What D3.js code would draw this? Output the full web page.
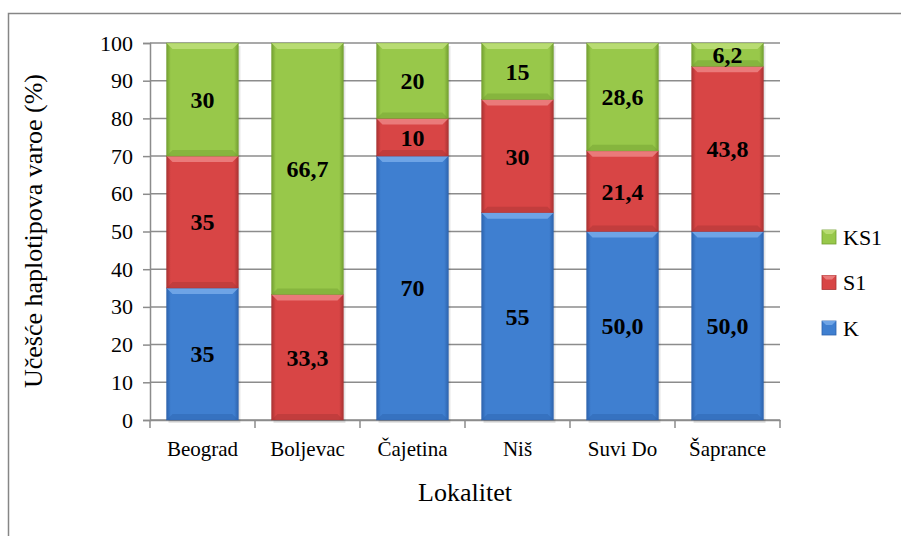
<!DOCTYPE html>
<html><head><meta charset="utf-8">
<script src="https://cdn.jsdelivr.net/npm/d3@7"></script>
<style>body{margin:0;background:#fff}svg{display:block}</style>
</head><body><svg id="c" width="901" height="536" font-family="Liberation Serif"></svg>
<script>
const categories = ["Beograd","Boljevac","Čajetina","Niš","Suvi Do","Šaprance"];
const seriesNames = ["K","S1","KS1"];
const valK   = [35, 0, 70, 55, 50.0, 50.0];
const valS1  = [35, 33.3, 10, 30, 21.4, 43.8];
const valKS1 = [30, 66.7, 20, 15, 28.6, 6.2];
const lblK   = ["35","","70","55","50,0","50,0"];
const lblS1  = ["35","33,3","10","30","21,4","43,8"];
const lblKS1 = ["30","66,7","20","15","28,6","6,2"];
const yTicks = [0,10,20,30,40,50,60,70,80,90,100];

const FONT = "Liberation Serif";
const colors = {K:{base:"#3f7fd0",light:"#6ea4e6",dark:"#2d63ad"},
                S1:{base:"#d84545",light:"#ea7a7a",dark:"#a83232"},
                KS1:{base:"#98c84a",light:"#b8dc72",dark:"#729e30"}};
const svg = d3.select("#c");

// outer border
svg.append("path").attr("d","M8.5,540 V13.5 H905").attr("fill","none").attr("stroke","#868686").attr("stroke-width",1.5);

const x = d3.scaleBand().domain(categories).range([150,780]).paddingInner(0.315).paddingOuter(0.157);
const xb = d3.scaleBand().domain(categories).range([150,780]);
const y = d3.scaleLinear().domain([0,100]).range([420,43]);

const defs = svg.append("defs");
seriesNames.forEach(s=>{
  const g = defs.append("linearGradient").attr("id","g"+s).attr("x1","0").attr("x2","1").attr("y1","0").attr("y2","0");
  g.append("stop").attr("offset","0").attr("stop-color",colors[s].dark);
  g.append("stop").attr("offset","0.06").attr("stop-color",colors[s].base);
  g.append("stop").attr("offset","0.94").attr("stop-color",colors[s].base);
  g.append("stop").attr("offset","1").attr("stop-color",colors[s].dark);
});

// gridlines
svg.append("g").selectAll("line").data(yTicks).join("line")
  .attr("x1",150).attr("x2",780).attr("y1",d=>y(d)).attr("y2",d=>y(d))
  .attr("stroke","#8c8c8c").attr("stroke-width",1.5);

// y axis
const ya = svg.append("g").attr("transform","translate(150,0)")
  .call(d3.axisLeft(y).tickValues(yTicks).tickSize(7).tickPadding(10));
ya.attr("font-family",FONT);
ya.select(".domain").attr("stroke","#8c8c8c").attr("stroke-width",1.5);
ya.selectAll(".tick line").attr("stroke","#8c8c8c").attr("stroke-width",1.5);
ya.selectAll("text").style("font-family",FONT).attr("font-size",22).attr("fill","#000");

// x axis
const xa = svg.append("g").attr("transform","translate(0,420)")
  .call(d3.axisBottom(xb).tickSize(0).tickPadding(21));
xa.attr("font-family",FONT);
xa.select(".domain").attr("stroke","#8c8c8c").attr("stroke-width",1.5);
xa.selectAll("text").style("font-family",FONT).attr("font-size",21).attr("fill","#000");
svg.append("g").selectAll("line").data(d3.range(categories.length+1)).join("line")
  .attr("x1",i=>150+i*xb.bandwidth()).attr("x2",i=>150+i*xb.bandwidth())
  .attr("y1",420).attr("y2",428).attr("stroke","#8c8c8c").attr("stroke-width",1.5);

// stacks
const table = categories.map((c,i)=>({cat:c,K:valK[i],S1:valS1[i],KS1:valKS1[i],
  lK:lblK[i],lS1:lblS1[i],lKS1:lblKS1[i]}));
const stack = d3.stack().keys(seriesNames)(table);
const bw = x.bandwidth();
// shadow
svg.append("g").selectAll("rect").data(table).join("rect")
  .attr("x",d=>x(d.cat)+2).attr("y",y(100)+3).attr("width",bw).attr("height",y(0)-y(100))
  .attr("fill","#000").attr("opacity",0.1);
stack.forEach(layer=>{
  const s = layer.key;
  const g = svg.append("g");
  layer.forEach(d=>{
    const cat = d.data.cat;
    const x0 = x(cat), x1 = x0+bw, yt = y(d[1]), yb = y(d[0]);
    const h = yb-yt;
    if(h<=0.5) return;
    const b = Math.min(6, h/2);
    g.append("rect").attr("x",x0).attr("y",yt).attr("width",bw).attr("height",h).attr("fill",`url(#g${s})`);
    g.append("path").attr("d",`M${x0},${yt} H${x1} L${x1-b},${yt+b} H${x0+b} Z`).attr("fill",colors[s].light);
    g.append("path").attr("d",`M${x0},${yb} H${x1} L${x1-b},${yb-b} H${x0+b} Z`).attr("fill",colors[s].dark).attr("opacity",0.45);
    g.append("rect").attr("x",x0).attr("y",yt).attr("width",bw).attr("height",h).attr("fill","none")
      .attr("stroke",colors[s].dark).attr("stroke-width",0.6).attr("opacity",0.6);
    const lbl = d.data["l"+s];
    if(lbl) g.append("text").attr("x",x0+bw/2).attr("y",(yt+yb)/2).attr("dy","0.35em")
      .attr("text-anchor","middle").style("font-family",FONT).attr("font-weight","bold")
      .attr("font-size",24).attr("fill","#000").text(lbl);
  });
});

// axis titles
svg.append("text").attr("transform","translate(42,231) rotate(-90)").attr("text-anchor","middle")
  .style("font-family",FONT).attr("font-size",26).attr("fill","#000").text("Učešće haplotipova varoe (%)");
svg.append("text").attr("x",465).attr("y",501).attr("text-anchor","middle")
  .style("font-family",FONT).attr("font-size",26).attr("fill","#000").text("Lokalitet");

// legend
const legItems = ["KS1","S1","K"];
const leg = svg.append("g").selectAll("g").data(legItems).join("g")
  .attr("transform",(d,i)=>`translate(822,${237+i*45.5})`);
leg.append("rect").attr("x",0).attr("y",-7).attr("width",14).attr("height",14).attr("fill",d=>colors[d].base)
  .attr("stroke",d=>colors[d].dark).attr("stroke-width",0.8);
leg.append("path").attr("d","M0,-7 H14 L10,-3 H4 Z").attr("fill",d=>colors[d].light);
leg.append("text").attr("x",21).attr("y",0).attr("dy","0.35em")
  .style("font-family",FONT).attr("font-size",22).attr("fill","#000").text(d=>d);
</script></body></html>
